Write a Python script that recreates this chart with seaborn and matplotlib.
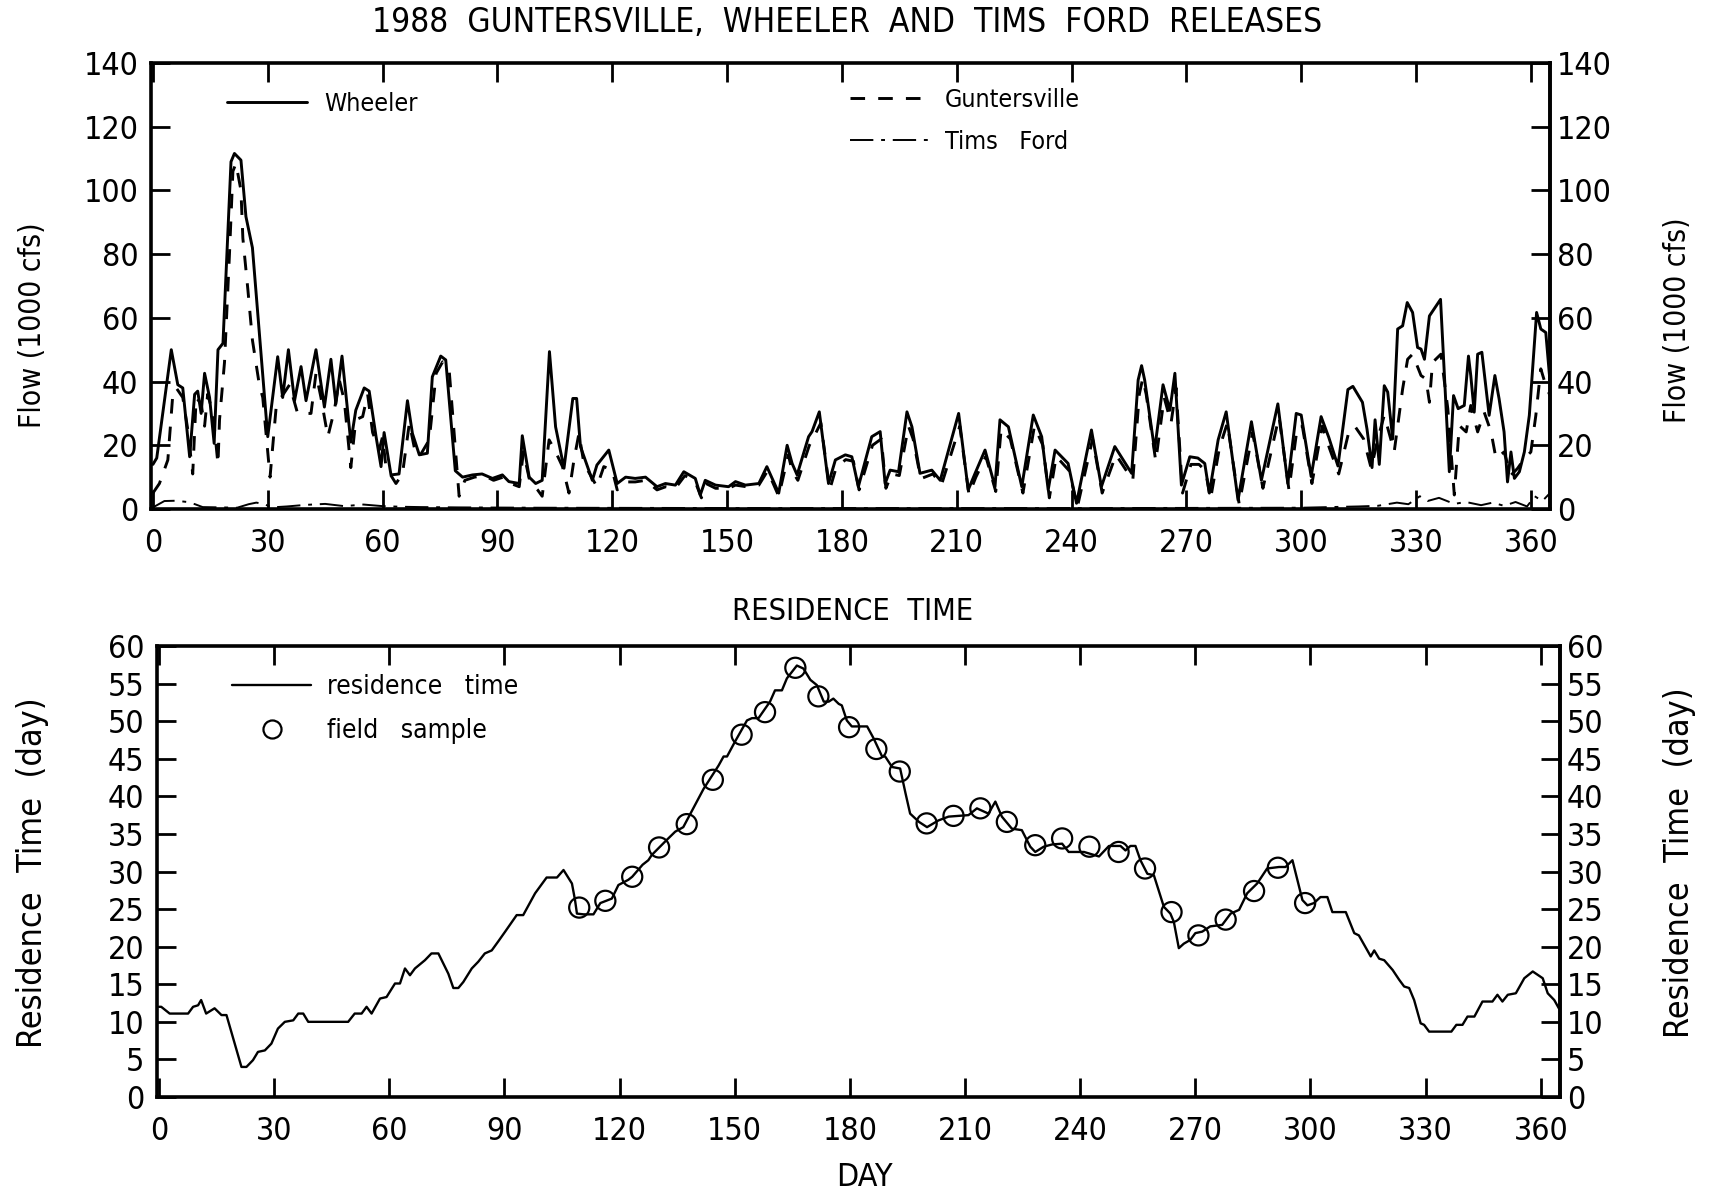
import numpy as np
import pandas as pd
import matplotlib
matplotlib.use("Agg")
import matplotlib.pyplot as plt
import seaborn as sns
from matplotlib import font_manager
from matplotlib.lines import Line2D

sns.set_style("white")
_names = {f.name for f in font_manager.fontManager.ttflist}
BASE = "Liberation Sans Narrow" if "Liberation Sans Narrow" in _names else "DejaVu Sans"
plt.rcParams["font.family"] = [BASE, "DejaVu Sans"]
plt.rcParams["font.stretch"] = "condensed"
for k in ("text.color", "axes.labelcolor", "xtick.color", "ytick.color", "axes.edgecolor"):
    plt.rcParams[k] = "black"

# ---------------- data ----------------
wheeler_day = [0, 1, 4.8, 6.5, 7.8, 9.6, 10.9, 11.7, 12.6, 13.5, 14.8, 16, 17, 18.3, 20.4, 21.3, 23, 24.3, 26,
               30, 32.6, 33.9, 35.4, 37, 38.7, 40, 42.6, 44.8, 46.5, 47.8, 49.4, 51.7, 53, 55.2, 56.5, 58.3,
               59.6, 60.4, 62.2, 64.3, 66.5, 67.8, 69.6, 71.7, 73, 75.2, 76.5, 79, 80.9, 83.5, 86, 88.7, 91.3,
               93, 95.7, 96.5, 98.3, 100, 101.7, 103.6, 105.2, 107.4, 109.7, 110.7, 111.7, 114.8, 116, 119.1,
               121.3, 123.5, 126, 128.7, 131.7, 133.9, 136.5, 138.7, 141.7, 143, 144.3, 147, 150.4, 152.2,
               154.8, 158.3, 160.4, 163.5, 165.7, 167, 168.3, 171.3, 172.2, 174.1, 176.5, 178.3, 180.9, 182.6,
               184.3, 187.8, 190, 191.3, 192.6, 194.8, 197, 198.3, 200.4, 203.5, 205.7, 210.5, 213, 214.8,
               217.4, 220, 221.3, 223.5, 227, 230, 232.2, 233.9, 235.7, 239.1, 241.3, 245.2, 247.8, 251.3,
               255.7, 257.4, 258.3, 259.1, 261.7, 263.9, 265.7, 267, 268.7, 270.9, 273, 274.8, 276, 278.3,
               280.4, 283.5, 287, 289.6, 293.9, 296.5, 298.7, 300, 302.6, 305.2, 307.2, 309.6, 312.2, 313.5,
               316, 317.2, 318.5, 319.3, 320.4, 321.7, 322.6, 323.9, 325.2, 326.5, 327.7, 329.1, 330.4, 331.3,
               332.2, 333.5, 336.4, 338.7, 339.8, 341, 342.6, 343.7, 344.3, 345.2, 346.1, 347.2, 349.1, 350.6,
               351.7, 353, 353.9, 354.8, 355.7, 357, 358.3, 359.6, 361.5, 362.6, 363.9, 365]
wheeler_flow = [14, 16, 50, 39, 38, 16.4, 36, 37, 30, 42.6, 35, 20.6, 50, 52, 109, 111.6, 109.5, 91.8, 82,
                22.7, 47.8, 35, 50, 34, 44.7, 34, 50, 32, 47, 33, 48, 21, 31, 38, 37, 22.7,
                13.3, 24, 10.7, 11, 34, 23.7, 17, 17.5, 41.5, 48, 46.8, 12, 10, 10.7, 11, 9.6, 10.7,
                8.6, 8, 23, 10, 8, 9, 49.4, 25.8, 12.8, 34.7, 34.7, 19.6, 9, 13.8, 18.5,
                8, 10, 9.6, 10, 7, 8, 7.5, 11.7, 9.6, 4.4, 9, 7.5, 7, 8.6,
                7.5, 8, 13.3, 5, 20, 14.3, 10.7, 22.7, 24.3, 30.5, 8, 15.4, 17, 16.4,
                7, 22.7, 24.3, 8, 12.2, 11.7, 30.5, 25.8, 11.2, 12.2, 9, 30, 6, 11.2,
                18.5, 7, 28, 25.8, 7, 29.5, 22.7, 6, 18.5, 14.3, 1.8, 24.8, 7, 19.6,
                11.2, 40.5, 45, 40.5, 18.5, 39, 31, 42.6, 7.5, 16.4, 16, 14.3, 5, 21.7,
                30.5, 2.8, 27.4, 9, 33, 8, 30, 29.5, 10.2, 29, 22.5, 13.5, 37.5, 38.5,
                33.5, 25, 13, 28, 14, 38.7, 36.7, 22, 56.5, 57.5, 64.8, 61.7, 50.7, 50.2,
                47, 60.6, 65.8, 11.7, 35.6, 31.5, 32.5, 48, 41.9, 30.4, 48.6, 49.2, 29.4, 41.9,
                34.6, 24.2, 8.5, 17.9, 9.6, 11.7, 17.9, 29.4, 61.7, 56.5, 55.4, 40]

gunt_day = [0, 1.7, 3.9, 5.2, 6.1, 7.8, 9.1, 10.4, 11.3, 12.6, 13.5, 14.3, 15.7, 17, 17.4, 18.7, 20, 20.9,
            21.7, 23, 23.5, 24.8, 26, 27.8, 28.7, 30.6, 32.2, 33.5, 35.7, 37.8, 41.3, 42.6, 43.9, 45.7,
            47.4, 48.7, 50, 51.7, 53, 54.8, 56.1, 57.4, 59.1, 60, 60.9, 63.5, 65.2, 67, 68.5, 69.6, 72.2,
            74, 75.7, 77.4, 78.7, 80, 81.5, 84, 86.5, 89, 91.5, 93.5, 95.7, 96.8, 98.5, 100.5, 101.7,
            103.5, 105, 107, 108.7, 110, 111.3, 112.6, 116, 117.8, 120, 121.3, 123.5, 126, 128.7, 131.7,
            134, 136.5, 139, 141.7, 143.3, 144.5, 147, 150.4, 152.2, 155, 158.3, 160.6, 163.5, 166, 167,
            168.5, 171.5, 172.4, 174.5, 176.8, 178.5, 181, 183, 184.5, 188, 190.3, 191.5, 193, 195,
            197.4, 198.6, 200.6, 203.8, 206, 210.8, 213.2, 215, 217.6, 220.2, 221.6, 224, 227.3, 230.3,
            232.5, 234.2, 236, 239.4, 241.5, 245.5, 248, 251.6, 256, 257.7, 258.6, 259.5, 262, 264.2,
            266, 267.3, 269, 271.2, 273.3, 275, 276.3, 278.6, 280.7, 283.8, 287.3, 290, 294.2, 296.8,
            299, 300.3, 302.8, 305.5, 307.4, 309.8, 312.4, 314, 316.3, 318.3, 320, 321.7, 324.3, 326.5,
            327.8, 329.1, 331.3, 332.6, 333.5, 334.3, 336.5, 338.3, 340, 341.3, 343.1, 344.3, 346.1,
            347.8, 349.6, 350.9, 353, 354.8, 356.5, 358.3, 360, 361.3, 362.6, 363.9, 365]
gunt_flow = [5, 8, 15.4, 36, 38, 35, 25, 11, 35, 33, 26, 36, 30, 14, 28, 46, 80, 106,
             108.5, 100, 85, 69, 53, 39, 35, 10, 32, 35, 39, 30, 30, 42.6, 35, 22.7,
             31, 40.5, 34, 13, 28, 29, 36, 24, 18.5, 22.7, 13, 8, 11, 27, 18, 16.4, 21.7,
             42.6, 46.2, 43.6, 23.7, 4, 9, 10, 10.5, 9, 10, 8, 7, 18, 8.5, 6, 4,
             21.7, 18.5, 13.3, 5, 15.4, 23.7, 14.3, 7, 13.3, 12.2, 6, 8.5, 8.5, 9, 6,
             7, 6.5, 10.5, 8.5, 3.5, 8, 6.5, 6.5, 7.5, 7, 7.5, 12, 4, 17, 12,
             9, 20, 22, 27, 6, 13, 15.5, 15, 6, 20, 22, 6.5, 11, 10.5,
             26, 22, 9.5, 11, 7.5, 26, 4.5, 10, 16.5, 5.5, 25, 22, 5, 26,
             20, 3.5, 16.5, 12, 0.5, 22, 5, 17, 9, 36, 41, 36, 15, 35,
             27, 38, 5, 14, 14, 12, 3, 19, 27, 1.5, 24, 6.5, 29, 6,
             26, 26, 8, 26, 19, 11, 24, 26, 22, 12.7, 22, 29.4, 18, 37.7,
             47, 48.6, 41.9, 40.8, 33.5, 46, 48.6, 31.5, 4.4, 26.2, 24.2, 32.5, 24.2,
             30.4, 24.2, 15.8, 17.9, 10.6, 12.7, 15.8, 17.9, 29.4, 44, 38.75, 35.6]

tims_day = [0, 3, 6, 9, 11, 13, 18, 22, 25, 27, 29, 31, 35, 40, 45, 50, 55, 60, 65, 70, 80, 100, 150,
            200, 250, 300, 315, 320, 325, 328, 331, 333, 336, 340, 343, 347, 350, 353, 356, 359, 361,
            363, 365]
tims_flow = [0.5, 2.5, 2.6, 2.2, 1.5, 0.6, 0.5, 0.4, 1.5, 2.0, 1.6, 0.5, 0.8, 1.3, 1.6, 0.9, 1.4, 0.9, 0.7,
             0.6, 0.5, 0.4, 0.3, 0.3, 0.3, 0.4, 0.8, 1.0, 2.0, 1.5, 4.0, 2.5, 3.5, 1.6, 2.2, 1.2, 2.0,
             1.0, 2.2, 0.8, 4.0, 2.5, 5.0]

rt_day = [0, 0.6, 2.8, 7.6, 8.9, 10.2, 11, 12.3, 14.5, 16.3, 17.6, 21.5, 22.8, 24.5, 25.8, 27.6, 29.3, 31,
          32.8, 35, 36.3, 37.6, 38.9, 49.3, 51, 52.8, 54.1, 55.4, 57.6, 59.3, 61.5, 62.8, 64.1, 65.4, 66.7,
          69.3, 71, 72.8, 75.4, 76.7, 78, 79.3, 81.5, 83.2, 84.9, 86.7, 88.4, 90.2, 93.2, 94.9, 98, 101,
          103.7, 105.4, 107.6, 108.4, 108.9, 110.6, 113.2, 115, 118, 119.7, 122.3, 123.3, 126, 127.5,
          128.4, 131.9, 134.5, 136.6, 141.9, 145.8, 147.1, 148, 150.1, 153.2, 154.5, 156.2, 159.2, 160.5,
          162.3, 163.6, 166.2, 167.9, 169.7, 171.4, 173.2, 174.5, 175.7, 177.1, 177.9, 179.2, 180.5,
          184.5, 186.2, 188.4, 189.2, 191, 193.1, 194.5, 195.7, 198, 200.1, 203.1, 205.7, 210.9, 213.1,
          216.1, 217.9, 219.6, 222.2, 224.8, 227, 228.3, 230.5, 232.7, 235.3, 237, 241, 244.9, 247.5,
          250.5, 251.8, 253.1, 254.4, 255.7, 257.5, 259.2, 261.8, 263.5, 264.4, 265.7, 267, 268.7, 270,
          271.8, 273.9, 277, 279.2, 281.4, 283.5, 286.1, 288.7, 291.8, 293.5, 295.3, 297.9, 299.2,
          300.9, 302.6, 304.4, 305.7, 309.2, 311.4, 312.6, 315.7, 316.6, 317.9, 319.2, 321.4, 323.1,
          324.4, 325.7, 327, 328.7, 329.6, 330.9, 336.7, 338, 339.6, 340.9, 342.7, 344.8, 347.4, 348.7,
          350, 351.4, 353.5, 355.7, 357.9, 360.5, 361.8, 363.5, 364.7]
rt_value = [12, 12, 11.1, 11.1, 12, 12.2, 12.9, 11.1, 11.8, 10.9, 10.9, 4, 4, 4.9, 6, 6.2, 7.1, 9.1,
            10, 10.2, 11.1, 11.1, 10, 10, 11.1, 11.1, 12, 11.1, 13.1, 13.3, 15.1, 15.1, 17.1, 16.2, 17.1,
            18.2, 19.1, 19.1, 16.4, 14.5, 14.5, 15.3, 17.1, 18, 19.1, 19.5, 20.7, 22, 24.2, 24.2, 27.1, 29.2,
            29.2, 30.2, 28.4, 26.2, 24.4, 24.3, 24.3, 25.8, 26.4, 28.2, 28.9, 29.3, 30.9, 31.5,
            32.2, 34, 35.3, 35.9, 41, 44.1, 45.3, 45.3, 47.3, 50.1, 50.4, 50.4, 52.6, 54.1,
            54.1, 55.7, 57.4, 57, 55.5, 54.8, 52.6, 52.6, 53, 52.3, 52.1, 50.1, 49.3,
            49.3, 47.7, 45.3, 45.3, 43.9, 43.7, 40.4, 37.7, 36.6, 35.9, 36.8, 37.3, 37.5, 38.4,
            37.7, 39.3, 37.3, 35.7, 35.5, 33.3, 32.6, 33.3, 33.6, 33.7, 32.6, 32.6, 32, 33.4,
            33.4, 32.8, 33.4, 33.4, 31.5, 29.7, 29.5, 25.3, 24.4, 23.3, 19.8, 20.4, 20.9, 21.8,
            22, 22.7, 22.9, 24.4, 24.9, 27.1, 28.4, 30.4, 30.6, 30.6, 31.5, 26.2, 25.5,
            25.8, 26.6, 26.6, 24.6, 24.6, 21.8, 21.5, 18.7, 19.5, 18.4, 18.2, 16.9, 15.6,
            14.7, 14.5, 12.9, 9.8, 9.6, 8.7, 8.7, 9.6, 9.6, 10.7, 10.7, 12.7, 12.7, 13.6,
            12.7, 13.6, 13.8, 15.8, 16.7, 15.8, 13.8, 12.9, 11.8]

sample_day = [109.5, 116.3, 123.3, 130.3, 137.5, 144.3, 151.8, 157.9, 165.8, 171.8, 179.8, 186.9, 193,
              200, 207, 214, 220.9, 228.3, 235.3, 242.4, 250, 256.9, 263.8, 270.8, 277.9, 285.3, 291.5,
              298.6]
sample_value = [25.2, 26.1, 29.3, 33.2, 36.3, 42.2, 48.2, 51.2, 57.1, 53.3, 49.2, 46.3, 43.3,
                36.4, 37.4, 38.4, 36.6, 33.5, 34.4, 33.3, 32.6, 30.4, 24.6, 21.5, 23.6, 27.4, 30.5,
                25.8]

flow_ticks = list(range(0, 141, 20))
rt_ticks = list(range(0, 61, 5))
day_ticks = list(range(0, 361, 30))

# ---------------- figure ----------------
W, H = 1714, 1194
fig = plt.figure(figsize=(W / 100, H / 100), dpi=100)
fig.patch.set_facecolor("white")
ax1 = fig.add_axes([151 / W, 1 - 509 / H, 1399 / W, 446 / H])
ax2 = fig.add_axes([157 / W, 1 - 1097 / H, 1403 / W, 451 / H])

LW = 2.1
GDASH = (5, 4.5)
TDASH = (12, 4, 2, 4)

# top panel
sns.lineplot(x=wheeler_day, y=wheeler_flow, ax=ax1, color="black", lw=LW,
             estimator=None, sort=False, legend=False)
sns.lineplot(x=gunt_day, y=gunt_flow, ax=ax1, color="black", lw=LW,
             estimator=None, sort=False, legend=False)
ax1.lines[-1].set_dashes(GDASH)
sns.lineplot(x=tims_day, y=tims_flow, ax=ax1, color="black", lw=1.4,
             estimator=None, sort=False, legend=False)
ax1.lines[-1].set_dashes(TDASH)

# bottom panel
sns.lineplot(x=rt_day, y=rt_value, ax=ax2, color="black", lw=1.7,
             estimator=None, sort=False, legend=False)
sns.scatterplot(x=sample_day, y=sample_value, ax=ax2, marker="o", s=210,
                facecolor="none", edgecolor="black", linewidth=1.6, zorder=3, legend=False)

TICKFS = 23
for ax, yt, ylim in ((ax1, flow_ticks, (0, 140)), (ax2, rt_ticks, (0, 60))):
    ax.set_xlim(-0.5, 365)
    ax.set_ylim(*ylim)
    ax.set_xticks(day_ticks)
    ax.set_yticks(yt)
    ax.set_xlabel("")
    ax.set_ylabel("")
    for s in ax.spines.values():
        s.set_linewidth(2.6)
        s.set_color("black")
        s.set_visible(True)
    ax.tick_params(axis="x", direction="in", length=14, width=2, top=True, bottom=True,
                   labelsize=TICKFS, pad=14)
    ax.tick_params(axis="y", direction="in", length=14, width=2, left=True, right=False,
                   labelsize=TICKFS, pad=9)
    sec = ax.secondary_yaxis("right")
    sec.set_yticks(yt)
    sec.tick_params(axis="y", direction="in", length=14, width=2, labelsize=TICKFS, pad=5)
    sec.spines["right"].set_linewidth(2.6)

# legends
leg1 = ax1.legend(handles=[Line2D([], [], color="black", lw=LW)], labels=["Wheeler"],
                  loc="center left", bbox_to_anchor=(0.054, 0.908), frameon=False,
                  borderpad=0, borderaxespad=0, handlelength=3.2, handletextpad=0.7, fontsize=18)
ax1.add_artist(leg1)
ax1.legend(handles=[Line2D([], [], color="black", lw=LW, dashes=GDASH),
                    Line2D([], [], color="black", lw=1.4, dashes=TDASH)],
           labels=["Guntersville", "Tims   Ford"],
           loc="center left", bbox_to_anchor=(0.4997, 0.871), frameon=False,
           borderpad=0, borderaxespad=0, handlelength=3.2, handletextpad=0.6,
           labelspacing=0.72, fontsize=18)
ax2.legend(handles=[Line2D([], [], color="black", lw=1.7),
                    Line2D([], [], color="black", ls="none", marker="o", markersize=13,
                           markerfacecolor="none", markeredgewidth=1.6)],
           labels=["residence   time", "field   sample"], numpoints=1,
           loc="center left", bbox_to_anchor=(0.0535, 0.86), frameon=False,
           borderpad=0, borderaxespad=0, handlelength=3.0, handletextpad=0.6,
           labelspacing=0.68, fontsize=19)

# texts
def ftext(x, y, s, **kw):
    fig.text(x / W, 1 - y / H, s, ha="center", va="center", **kw)

ftext(847, 22, "1988  GUNTERSVILLE,  WHEELER  AND  TIMS  FORD  RELEASES", fontsize=24)
ftext(853, 612, "RESIDENCE  TIME", fontsize=22)
ftext(864, 1177, "DAY", fontsize=23)
ftext(33, 325, "Flow (1000 cfs)", fontsize=21.5, rotation=90)
ftext(1678, 320, "Flow (1000 cfs)", fontsize=21.5, rotation=90)
ftext(33, 873, "Residence  Time  (day)", fontsize=24.5, rotation=90)
ftext(1680, 863, "Residence  Time  (day)", fontsize=24.5, rotation=90)

fig.savefig("out.png", dpi=100, facecolor="white")
